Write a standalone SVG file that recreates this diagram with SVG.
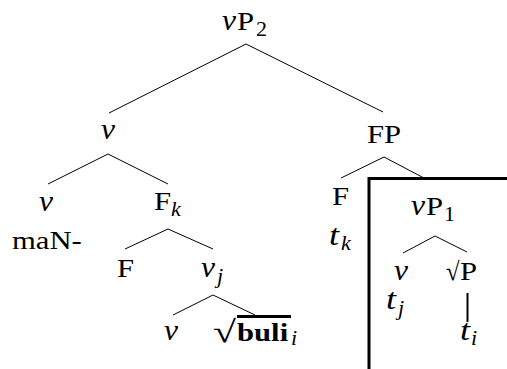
<svg xmlns="http://www.w3.org/2000/svg" width="507" height="369" viewBox="0 0 507 369">
<style>
text{font-family:"Liberation Serif","Times New Roman",serif;fill:#000}
.u{font-size:26px}
.i{font-size:30px;font-style:italic}
.s{font-size:20px}
.si{font-size:20px;font-style:italic}
.b{font-size:26px;font-weight:bold}
.r{font-size:31px}
.e{stroke:#000;stroke-width:1;fill:none}
.k{stroke:#000;stroke-width:3;fill:none}
</style>
<rect width="507" height="369" fill="#fff"/>
<g id="connectors">
<line class="e" x1="246" y1="44" x2="109" y2="113"/>
<line class="e" x1="246" y1="44" x2="383" y2="112"/>
<line class="e" x1="108" y1="154" x2="48" y2="184"/>
<line class="e" x1="108" y1="154" x2="168" y2="184"/>
<line class="e" x1="384" y1="157" x2="341" y2="178"/>
<line class="e" x1="384" y1="157" x2="424" y2="178"/>
<line class="e" x1="168" y1="229" x2="125" y2="249"/>
<line class="e" x1="168" y1="229" x2="213" y2="249"/>
<line class="e" x1="213" y1="295" x2="173" y2="315"/>
<line class="e" x1="213" y1="295" x2="255" y2="315"/>
<line class="e" x1="435" y1="236" x2="403" y2="253"/>
<line class="e" x1="435" y1="236" x2="467" y2="252"/>
<line x1="467.5" y1="293" x2="467.5" y2="322" stroke="#000" stroke-width="2"/>
</g>
<g id="box"><path class="k" d="M369,369 V178.5 H507"/></g>
<g id="vP2">
<text class="i" transform="translate(222,30) scale(1.05 1)">v</text>
<text class="u" transform="translate(237,30) scale(1.18 1)">P</text>
<text class="s" transform="translate(256,36) scale(1.1 1)">2</text>
</g>
<g id="v_top"><text class="i" transform="translate(101,139) scale(1.05 1)">v</text></g>
<g id="FP"><text class="u" transform="translate(367,143) scale(1.18 1)">FP</text></g>
<g id="v_left"><text class="i" transform="translate(39,211) scale(1.05 1)">v</text></g>
<g id="maN"><text class="u" transform="translate(12,249) scale(1.18 1)">maN-</text></g>
<g id="Fk">
<text class="u" transform="translate(154,210) scale(1.18 1)">F</text>
<text class="si" transform="translate(171,216) scale(1.1 1)">k</text>
</g>
<g id="F_fp"><text class="u" transform="translate(332,205) scale(1.18 1)">F</text></g>
<g id="tk">
<text class="i" transform="translate(329,245) scale(1.2 1)">t</text>
<text class="si" transform="translate(341,250) scale(1.1 1)">k</text>
</g>
<g id="vP1">
<text class="i" transform="translate(411,215) scale(1.05 1)">v</text>
<text class="u" transform="translate(426,215) scale(1.18 1)">P</text>
<text class="s" transform="translate(444,221) scale(1.1 1)">1</text>
</g>
<g id="F_low"><text class="u" transform="translate(117,277) scale(1.18 1)">F</text></g>
<g id="vj">
<text class="i" transform="translate(201,277) scale(1.05 1)">v</text>
<text class="si" transform="translate(217,283) scale(1.1 1)">j</text>
</g>
<g id="v_in"><text class="i" transform="translate(394,280) scale(1.05 1)">v</text></g>
<g id="rootP">
<text class="u" transform="translate(446,280) scale(0.95 1)">√</text>
<text class="u" transform="translate(460,280) scale(1.18 1)">P</text>
</g>
<g id="tj">
<text class="i" transform="translate(386,309) scale(1.2 1)">t</text>
<text class="si" transform="translate(398,315) scale(1.1 1)">j</text>
</g>
<g id="ti">
<text class="i" transform="translate(460,340) scale(1.2 1)">t</text>
<text class="si" transform="translate(471,345) scale(1.1 1)">i</text>
</g>
<g id="v_bottom"><text class="i" transform="translate(164,340) scale(1.05 1)">v</text></g>
<g id="buli">
<text class="r" transform="translate(213,342) scale(1.35 1)">√</text>
<text class="b" transform="translate(237,341) scale(1.18 1)">buli</text>
<text class="si" transform="translate(291,345) scale(1.1 1)">i</text>
<line class="k" x1="237" y1="316.5" x2="291" y2="316.5"/>
</g>
</svg>
